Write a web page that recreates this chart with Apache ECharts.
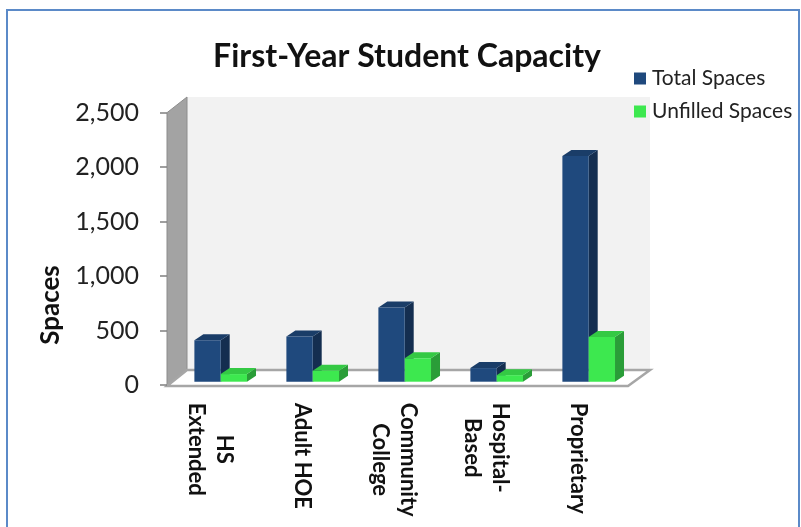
<!DOCTYPE html>
<html><head><meta charset="utf-8">
<script src="https://cdn.jsdelivr.net/npm/echarts@6/dist/echarts.min.js"></script>
<style>html,body{margin:0;padding:0;background:#fff}#c{width:801px;height:527px}</style>
</head><body><div id="c"></div>
<script>
const categories = ['HS\nExtended', 'Adult HOE', 'Community\nCollege', 'Hospital-\nBased', 'Proprietary'];
const totalSpaces = [380, 415, 680, 125, 2070];
const unfilledSpaces = [70, 100, 215, 60, 410];
const yTicks = [0, 500, 1000, 1500, 2000, 2500];

const FONT = 'Lato';
const DX = 9, DY = 6;
const faceColors = [
  {front: '#1f497d', side: '#142e50', top: '#1a3d68'},
  {front: '#3de84f', side: '#2a9d38', top: '#34c944'}
];

function box3d(idx) {
  return function (params, api) {
    const cat = api.value(0), val = api.value(1);
    const band = api.size([1, 0])[0];
    const bw = band * 0.286;
    const top = api.coord([cat, val]);
    const base = api.coord([cat, 0]);
    const x0 = top[0] - bw + idx * bw;
    const c = faceColors[idx];
    return {
      type: 'group',
      children: [
        {type: 'polygon', shape: {points: [[x0 + bw, top[1]], [x0 + bw + DX, top[1] - DY], [x0 + bw + DX, base[1] - DY], [x0 + bw, base[1]]]}, style: {fill: c.side}},
        {type: 'polygon', shape: {points: [[x0, top[1]], [x0 + DX, top[1] - DY], [x0 + bw + DX, top[1] - DY], [x0 + bw, top[1]]]}, style: {fill: c.top}},
        {type: 'rect', shape: {x: x0, y: top[1], width: bw, height: base[1] - top[1]}, style: {fill: c.front}}
      ]
    };
  };
}

const chart = echarts.init(document.getElementById('c'), null, {renderer: 'canvas'});
chart.setOption({
  backgroundColor: '#ffffff',
  animation: false,
  title: {
    text: 'First-Year Student Capacity', left: 402, top: 36, textAlign: 'center',
    textStyle: {fontFamily: FONT, fontWeight: 'bold', fontSize: 32, color: '#111'}
  },
  legend: {
    orient: 'vertical', left: 629, top: 63, itemGap: 12, itemWidth: 12, itemHeight: 12, icon: 'rect',
    textStyle: {fontFamily: FONT, fontSize: 21, color: '#222', padding: [0, 0, 0, 1]},
    data: ['Total Spaces', 'Unfilled Spaces']
  },
  graphic: [
    {type: 'rect', z: -10, shape: {x: 7, y: 10, width: 792, height: 540}, style: {fill: 'none', stroke: '#5b8ac8', lineWidth: 2}},
    {type: 'rect', z: -5, shape: {x: 187, y: 97, width: 463, height: 273}, style: {fill: '#f2f2f2'}},
    {type: 'polygon', z: -4, shape: {points: [[167, 112.7], [187, 97], [187, 370], [167, 386]]}, style: {fill: '#a3a3a3', stroke: '#8c8c8c', lineWidth: 1}},
    {type: 'polygon', z: -4, shape: {points: [[167, 386], [187, 370], [650, 370], [628, 386]]}, style: {fill: '#ffffff', stroke: '#a6a6a6', lineWidth: 2.5}},
    {type: 'text', z: 5, x: 51, y: 305, rotation: Math.PI / 2,
      style: {text: 'Spaces', fontFamily: FONT, fontWeight: 'bold', fontSize: 26, fill: '#111', align: 'center', verticalAlign: 'middle'}}
  ],
  grid: [
    {left: 174.7, right: 166.3, top: 109.2, bottom: 145.3},
    {left: 167, width: 10, top: 112.7, bottom: 142}
  ],
  xAxis: [
    {
      type: 'category', gridIndex: 0, data: categories,
      axisLine: {show: false}, axisTick: {show: false},
      axisLabel: {
        rotate: -90, margin: 21, interval: 0, padding: [22, 0, 0, 0],
        formatter: function (v) { return v.split('\n').map(function (l) { return '{c|' + l + '}'; }).join('\n'); },
        rich: {c: {align: 'center', fontFamily: FONT, fontWeight: 'bold', fontSize: 22, color: '#111', lineHeight: 28}}
      }
    },
    {type: 'category', gridIndex: 1, data: [''], show: false}
  ],
  yAxis: [
    {type: 'value', gridIndex: 0, min: 0, max: 2500, interval: 500, show: false, splitLine: {show: false}},
    {
      type: 'value', gridIndex: 1, min: yTicks[0], max: yTicks[yTicks.length - 1], interval: 500,
      axisLine: {show: false},
      axisTick: {show: true, length: 7, lineStyle: {color: '#808080', width: 1.5}},
      splitLine: {show: false},
      axisLabel: {margin: 28, fontFamily: FONT, fontSize: 25, color: '#222',
        formatter: function (v) { return v.toLocaleString('en-US'); }}
    }
  ],
  series: [
    {name: 'Total Spaces', type: 'custom', xAxisIndex: 0, yAxisIndex: 0, z: 3,
      itemStyle: {color: faceColors[0].front}, renderItem: box3d(0),
      encode: {x: 0, y: 1}, data: totalSpaces.map(function (v, i) { return [i, v]; })},
    {name: 'Unfilled Spaces', type: 'custom', xAxisIndex: 0, yAxisIndex: 0, z: 4,
      itemStyle: {color: faceColors[1].front}, renderItem: box3d(1),
      encode: {x: 0, y: 1}, data: unfilledSpaces.map(function (v, i) { return [i, v]; })}
  ]
});
</script></body></html>
